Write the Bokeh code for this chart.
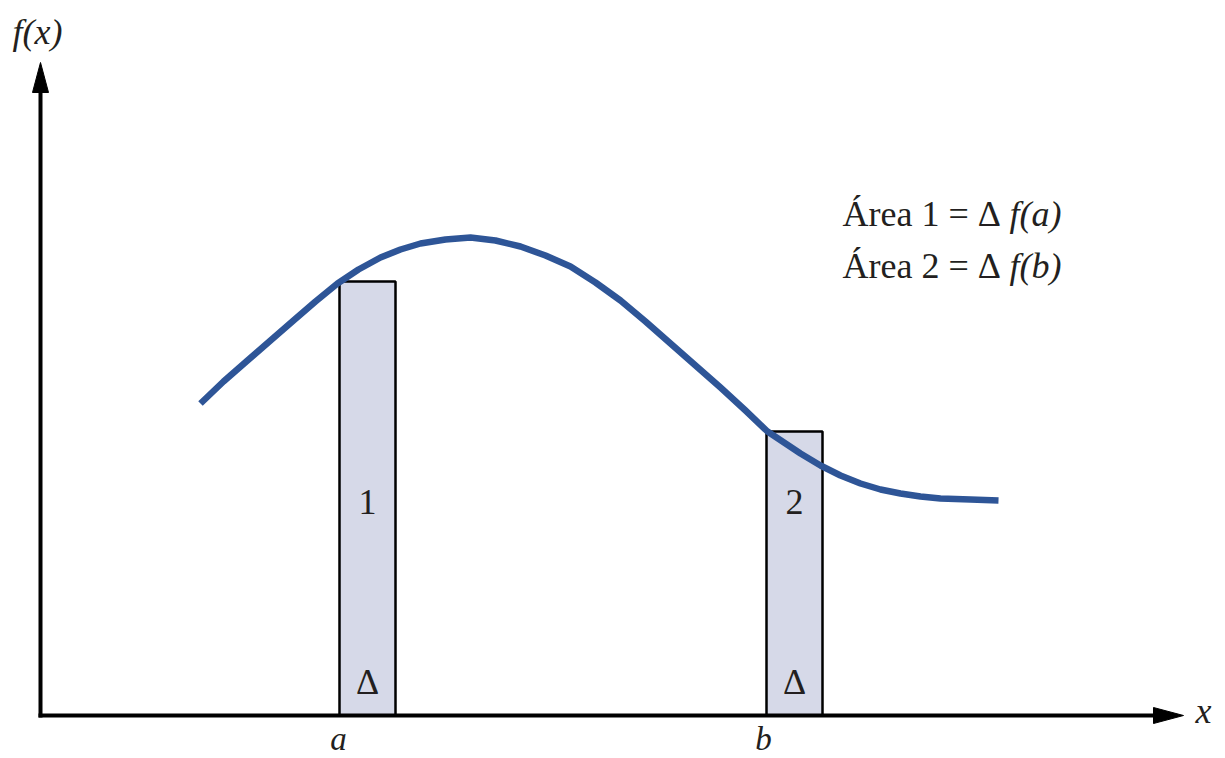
from bokeh.plotting import figure
from bokeh.models import Range1d
from bokeh.core.properties import value
from bokeh.embed import file_html
from bokeh.resources import INLINE

# ---- data (diagram units) ----
curve_x = [1.60, 1.83, 2.07, 2.30, 2.53, 2.75, 2.97, 3.18, 3.40, 3.60, 3.80, 4.05, 4.30,
           4.55, 4.80, 5.05, 5.30, 5.55, 5.80, 6.05, 6.30, 6.55, 6.80, 7.05, 7.27, 7.45,
           7.60, 7.80, 8.00, 8.20, 8.40, 8.60, 8.80, 9.00, 9.30, 9.58]
curve_y = [3.12, 3.34, 3.55, 3.75, 3.95, 4.14, 4.32, 4.46, 4.58, 4.66, 4.72, 4.76, 4.78,
           4.75, 4.69, 4.60, 4.49, 4.33, 4.15, 3.94, 3.72, 3.50, 3.28, 3.05, 2.84, 2.72,
           2.62, 2.50, 2.40, 2.32, 2.26, 2.22, 2.19, 2.17, 2.16, 2.15]
a = 2.99
b = 7.26
delta = 0.56
f_a = 4.34
f_b = 2.84
x_axis_end = 11.43
y_axis_end = 6.53
rect_labels = ["1", "2"]
legend_lines = ["Área 1 = Δ", "Área 2 = Δ"]
legend_funcs = ["f(a)", "f(b)"]

FONT = value("Liberation Serif")
TXT = "#231F20"
FS = "36px"

p = figure(width=1225, height=758, output_backend="svg", toolbar_location=None,
           x_range=Range1d(-0.40, 11.85), y_range=Range1d(-0.43, 7.15),
           min_border=0, outline_line_color=None, background_fill_color="white",
           border_fill_color="white")
p.axis.visible = False
p.grid.visible = False

# rectangles
lefts = [a, b]
tops = [f_a, f_b]
p.quad(left=lefts, right=[v + delta for v in lefts], bottom=[0, 0], top=tops,
       fill_color="#D6D9E8", line_color="black", line_width=2.5)

# curve
p.line(curve_x, curve_y, line_color="#2E5597", line_width=6.5, line_cap="butt", line_join="round")

# axes
head_len = 0.30
head_half = 0.08
p.line([-0.02, x_axis_end - head_len + 0.02], [0, 0], line_color="black", line_width=4)
p.line([0, 0], [-0.02, y_axis_end - head_len + 0.02], line_color="black", line_width=4)
p.patch([x_axis_end, x_axis_end - head_len, x_axis_end - head_len],
        [0, head_half, -head_half], fill_color="black", line_color="black")
p.patch([0, head_half, -head_half],
        [y_axis_end, y_axis_end - head_len, y_axis_end - head_len], fill_color="black", line_color="black")

# axis labels
p.text(x=[-0.28], y=[6.84], text=["f(x)"], text_font=FONT, text_font_style="italic",
       text_font_size=FS, text_color=TXT, text_align="left", text_baseline="middle")
p.text(x=[x_axis_end + 0.12], y=[0.05], text=["x"], text_font=FONT, text_font_style="italic",
       text_font_size=FS, text_color=TXT, text_align="left", text_baseline="middle")
p.text(x=[a - 0.01, b - 0.03], y=[-0.23, -0.23], text=["a", "b"], text_font=FONT, text_font_style="italic",
       text_font_size="33px", text_color=TXT, text_align="center", text_baseline="middle")

# rect labels
mids = [v + delta / 2 for v in lefts]
p.text(x=mids, y=[2.14, 2.14], text=rect_labels, text_font=FONT,
       text_font_size=FS, text_color=TXT, text_align="center", text_baseline="middle")
p.text(x=mids, y=[0.34, 0.34], text=["Δ", "Δ"], text_font=FONT,
       text_font_size=FS, text_color=TXT, text_align="center", text_baseline="middle")

# legend text
p.text(x=[8.02, 8.02], y=[5.02, 4.50], text=legend_lines, text_font=FONT,
       text_font_size=FS, text_color=TXT, text_align="left", text_baseline="middle")
p.text(x=[10.21, 10.21], y=[5.02, 4.50], text=legend_funcs, text_font=FONT, text_font_style="italic",
       text_font_size=FS, text_color=TXT, text_align="right", text_baseline="middle")

open("out.html", "w").write(file_html(p, INLINE))
